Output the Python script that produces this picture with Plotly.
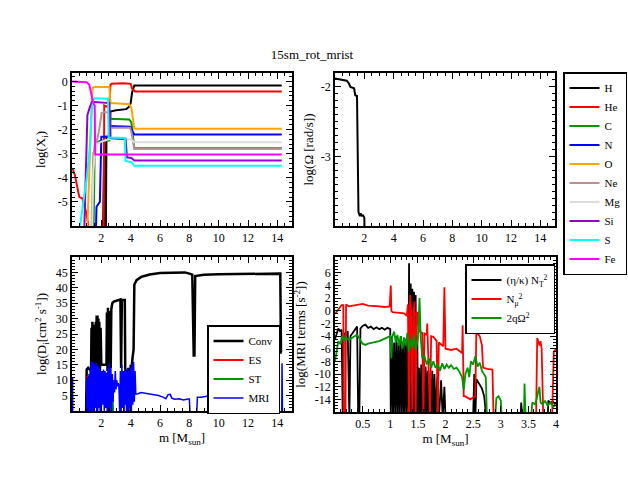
import plotly.graph_objects as go

W, H = 628, 485
FONT = "Liberation Serif"

# ---------------- top left: log(X_i) against m ----------------
elements = ["H", "He", "C", "N", "O", "Ne", "Mg", "Si", "S", "Fe"]
element_colors = ["black", "#ff0000", "#009600", "#0000ff", "#ffa500",
                  "#bc8f8f", "#dcdcdc", "#9400d3", "#00ffff", "#ff00ff"]

H_pts = [(2.1, -7), (2.15, -2.5), (2.2, -2.5), (2.25, -7), (2.3, -7), (2.35, -2.3),
         (2.6, -2.3), (2.62, -1.25), (3.0, -1.2), (3.7, -1.15), (3.9, -1.05),
         (4.0, -0.9), (4.1, -0.45), (4.25, -0.17), (14.3, -0.17)]
He_pts = [(0.0, -3.6), (0.09, -3.7), (0.2, -3.9), (0.4, -4.45), (0.5, -4.8), (0.7, -4.85),
          (0.95, -5.4), (1.1, -5.9), (1.25, -7), (2.15, -7), (2.2, -1.0), (2.35, -1.05),
          (2.55, -1.0), (2.62, -0.15), (2.7, -0.1), (3.5, -0.08), (4.0, -0.1),
          (4.1, -0.3), (4.3, -0.42), (14.3, -0.42)]
C_pts = [(1.45, -7), (1.55, -2.65), (1.8, -2.5), (2.0, -2.45), (2.55, -2.45), (2.6, -1.55),
         (3.9, -1.58), (4.05, -1.7), (4.25, -2.77), (14.3, -2.77)]
N_pts = [(1.6, -7), (1.67, -5.2), (1.9, -5.0), (1.95, -2.5), (2.0, -2.3), (2.5, -2.3),
         (2.55, -1.85), (3.95, -1.88), (4.05, -2.0), (4.25, -2.2), (14.3, -2.2)]
O_pts = [(1.0, -7), (1.05, -6), (1.11, -5.4), (1.18, -3.6), (1.27, -2.3), (1.34, -0.9),
         (1.41, -0.27), (1.5, -0.23), (2.55, -0.23), (2.62, -0.85), (2.7, -0.9),
         (3.9, -0.95), (4.05, -1.1), (4.25, -1.96), (14.3, -1.96)]
Ne_pts = [(1.3, -7), (1.45, -3.0), (1.64, -2.6), (1.84, -2.06), (2.02, -1.3), (2.25, -1.27),
          (2.55, -1.3), (2.62, -1.92), (3.95, -1.92), (4.05, -2.1), (4.25, -2.8), (14.3, -2.8)]
Mg_pts = [(1.35, -7), (1.45, -3.8), (1.55, -3.0), (1.7, -2.6), (2.0, -2.5), (2.6, -2.38),
          (3.95, -2.4), (4.05, -2.45), (4.25, -2.52), (14.3, -2.52)]
Si_pts = [(0.8, -7), (0.9, -4.5), (1.0, -2.0), (1.05, -1.4), (1.2, -1.1), (1.35, -0.85),
          (1.5, -0.85), (2.55, -0.9), (2.62, -2.35), (3.65, -2.4), (3.75, -3.15),
          (4.05, -3.18), (4.25, -3.28), (14.3, -3.28)]
S_pts = [(0.45, -7), (0.55, -6), (0.77, -5.0), (1.0, -4.05), (1.23, -2.67), (1.34, -1.3),
         (1.45, -0.75), (1.55, -0.7), (2.45, -0.72), (2.5, -2.33), (3.6, -2.35),
         (3.65, -3.3), (4.05, -3.35), (4.25, -3.5), (14.3, -3.5)]
Fe_pts = [(0.0, 0.0), (0.9, 0.0), (1.0, -0.03), (1.18, -0.14), (1.32, -0.48), (1.45, -0.9),
          (1.55, -1.0), (1.58, -3.03), (14.3, -3.03)]
abundances = [H_pts, He_pts, C_pts, N_pts, O_pts, Ne_pts, Mg_pts, Si_pts, S_pts, Fe_pts]

# ---------------- top right: log(Omega) ----------------
omega_pts = [(0.0, -1.88), (0.3, -1.89), (0.6, -1.9), (0.8, -1.91), (0.95, -1.95),
             (1.05, -2.0), (1.3, -2.02), (1.38, -2.12), (1.5, -2.13), (1.55, -3.0),
             (1.6, -3.8), (1.7, -3.86), (1.75, -3.82), (1.85, -3.86), (1.9, -3.84),
             (2.0, -3.88), (2.02, -4.2)]

# ---------------- bottom left: log(D_i) ----------------
diff_names = ["Conv", "ES", "ST", "MRI"]
diff_colors = ["black", "#ff0000", "#009600", "#0000ff"]
diff_widths = [2.5, 2, 2, 1.5]

conv_pts = [(0.95, -5), (1.0, 13.5), (1.1, 14), (1.2, 13.5), (1.3, 13), (1.33, 27), (1.36, 12),
            (1.39, 29), (1.42, 14), (1.45, 28), (1.48, 12), (1.52, 13), (1.58, 12), (1.62, 29),
            (1.65, 12), (1.68, 31), (1.71, 13), (1.74, 31), (1.77, 12), (1.8, 30), (1.83, 13),
            (1.86, 29), (1.9, 12), (1.95, 27), (2.0, 15), (2.2, 15), (2.35, 15), (2.38, 32),
            (2.42, 13), (2.45, 33.5), (2.48, 13), (2.52, 32.5), (2.56, 0), (2.6, 32),
            (2.64, 14), (2.68, 33), (2.75, 35), (2.85, 35.5), (3.2, 36), (3.3, 36.2),
            (3.35, 14), (3.4, 36), (3.6, 36), (3.63, 14), (3.7, 12), (3.75, 0), (3.8, 13),
            (3.85, 0), (3.9, 14), (3.95, 2), (4.0, 15), (4.05, 13), (4.12, 17), (4.2, 20),
            (4.25, 41), (4.4, 42.5), (4.75, 43.6), (5.3, 44.3), (6.0, 44.8), (7.0, 45),
            (7.7, 45), (8.0, 44.6), (8.2, 44.3), (8.3, 18), (8.35, 18), (8.4, 43.8),
            (9.0, 44.2), (10.0, 44.4), (11.0, 44.5), (12.0, 44.6), (13.0, 44.6),
            (14.2, 44.6), (14.25, 19), (14.3, 19)]
es_pts = [(1.02, -1), (1.04, 9), (1.07, 11.3), (1.1, 11), (1.14, 9), (1.18, 6), (1.22, 3),
          (1.26, -1)]
st_pts = [(1.18, -1), (1.21, 2), (1.25, 1.5), (1.28, -1), (None, None),
          (2.72, -1), (2.74, 6.5), (2.77, 6), (2.8, -1)]
mri_pts = [(0.0, 10.5), (0.04, 10.5), (0.05, -1), (1.0, -1), (1.02, 10), (1.05, 0), (1.08, 11),
           (1.12, 0), (1.16, 12), (1.2, 0), (1.24, 14), (1.28, 0), (1.32, 16), (1.36, 0),
           (1.4, 16), (1.44, 0), (1.48, 15.5), (1.52, 0), (1.56, 15), (1.6, 1), (1.64, 15.5),
           (1.68, 0), (1.72, 15), (1.76, 0), (1.8, 14.5), (1.84, 1), (1.88, 14), (1.92, 0),
           (1.96, 13), (2.0, 0), (2.05, 13), (2.1, 2), (2.15, 13.5), (2.2, 0), (2.25, 13),
           (2.3, 1), (2.35, 12.5), (2.4, 0), (2.45, 14), (2.5, 0), (2.55, 15.5), (2.6, 1),
           (2.65, 14), (2.7, 0), (2.75, 12), (2.8, 3), (2.85, 10), (2.9, 6), (2.95, 13),
           (3.0, 7), (3.05, 10), (3.1, 8), (3.15, 9), (3.2, 8), (3.25, 0), (3.3, 13),
           (3.35, 0), (3.4, 15), (3.45, 1), (3.5, 13), (3.55, 0), (3.6, 13.5), (3.65, 2),
           (3.7, 13), (3.75, 0), (3.8, 14), (3.85, 0), (3.9, 13), (3.95, 1), (4.0, 14),
           (4.05, 0), (4.1, 15), (4.15, 2), (4.2, 16), (4.25, 3), (4.3, 13), (4.35, 5.5),
           (4.5, 5.6), (4.7, 6), (5.0, 5.8), (5.3, 5.5), (5.6, 5.2), (5.9, 5.0), (6.2, 4.5),
           (6.4, 4), (6.55, 5.3), (6.7, 5.4), (6.8, 4.2), (7.0, 3.8), (7.3, 4.0), (7.6, 3.6),
           (7.9, 3.9), (8.0, 3.9), (8.05, -1), (8.5, -1), (8.55, 4.5), (8.8, 4.5), (9.2, 4.8),
           (9.6, 5.0), (10.0, 5.3), (10.4, 4.9), (10.8, 5.2), (11.2, 4.6), (11.6, 5.0),
           (12.0, 5.5), (12.3, 5.8), (12.6, 6.0), (12.8, 6.2), (13.0, 5.5), (13.2, 6.3),
           (13.4, 6.8), (13.6, 8), (13.85, 9.8), (13.92, 10), (13.95, -1), (14.3, -1),
           (14.32, 15.5), (14.35, -1)]
diffusion = [conv_pts, es_pts, st_pts, mri_pts]

# ---------------- bottom right: MRI terms ----------------
mri_names = ["(η/κ) N<sub>T</sub><sup>2</sup>", "N<sub>μ</sub><sup>2</sup>", "2qΩ<sup>2</sup>"]
mri_colors = ["black", "#ff0000", "#009600"]

nt_pts = [(0.0, -4.5), (0.03, -3.5), (0.06, -2.8), (0.09, -3.2), (0.12, -3.0), (0.14, -17),
          (0.16, -3.5), (0.2, -3.8), (0.23, -3.2), (0.26, -17), (0.28, -4.0), (0.32, -3.5),
          (0.36, -3.0), (0.4, -2.5), (0.42, -17), (0.44, -17), (0.46, -2.8), (0.5, -2.4),
          (0.55, -2.2), (0.6, -2.7), (0.65, -2.5), (0.7, -2.9), (0.75, -2.6), (0.8, -2.9),
          (0.85, -2.7), (0.9, -3.0), (0.95, -2.7), (1.0, -2.9), (1.01, -17), (1.03, -4),
          (1.05, -17), (1.07, -5), (1.09, -17), (1.11, -4), (1.13, -17), (1.15, -5),
          (1.17, -17), (1.19, -4), (1.21, -17), (1.23, -5), (1.25, -17), (1.27, -4.5),
          (1.29, -17), (1.31, -4), (1.33, -17), (1.34, 7.5), (1.35, -17), (1.37, 4.3),
          (1.38, -17), (1.4, 3.5), (1.41, -17), (1.43, 3.0), (1.44, -17), (1.46, 2.5),
          (1.47, -17), (1.49, -4), (1.5, -17), (1.52, -9), (1.54, -17), (1.56, -8.5),
          (1.58, -17), (1.6, -9), (1.62, -17), (1.64, -8.8), (1.66, -17), (1.68, -9.5),
          (1.7, -17), (1.72, -10), (1.74, -17), (1.76, -9.5), (1.78, -17), (1.8, -10),
          (1.82, -17), (1.85, -10.5), (1.88, -17), (1.92, -11), (1.95, -17), (1.98, -12),
          (2.0, -17), (2.5, -17), (2.52, -10), (2.54, -17), (2.56, -10.8), (2.6, -11.5),
          (2.66, -12.3), (2.7, -13.5), (2.74, -17), (3.36, -17), (3.37, -14.5), (3.39, -17),
          (3.85, -17), (3.86, -14.2), (3.9, -14.6), (3.94, -14.3), (3.98, -14.7), (4.0, -14.5)]
nmu_pts = [(0.0, -0.5), (0.03, -0.1), (0.08, 0.5), (0.12, 0.9), (0.15, 0.9), (0.16, -17),
           (0.19, -17), (0.2, 1.0), (0.25, 0.7), (0.3, 0.8), (0.4, 1.0), (0.5, 1.1),
           (0.6, 0.8), (0.7, 0.8), (0.8, 0.7), (0.9, 0.6), (0.99, 0.7), (1.01, 4.0),
           (1.02, 0.0), (1.04, -0.2), (1.15, -0.3), (1.25, -0.4), (1.3, -0.8), (1.32, 1.0),
           (1.34, -17), (1.36, 2.5), (1.38, -0.3), (1.4, -17), (1.42, -0.5), (1.44, 1.5),
           (1.46, -17), (1.48, -0.2), (1.5, -0.5), (1.52, -3.2), (1.58, -3.5), (1.6, -17),
           (1.62, -3.6), (1.66, -3.8), (1.67, -2.0), (1.72, -17), (1.74, -4.0), (1.78, -4.1),
           (1.84, -4.8), (1.86, -17), (1.88, -5.0), (1.92, -5.3), (1.96, -5.6), (1.98, 3.7),
           (2.0, -6.0), (2.1, -6.2), (2.2, -6.0), (2.3, -6.7), (2.31, -2.3), (2.33, -13.5),
           (2.35, -13.5), (2.45, -14), (2.54, -13.5), (2.56, -2.3), (2.58, -3.6),
           (2.62, -4.0), (2.66, -5.5), (2.68, -9.0), (2.75, -9.2), (2.85, -9.3), (2.87, -17),
           (3.64, -17), (3.66, -4.3), (3.7, -5.5), (3.72, -4.8), (3.74, -6.0), (3.77, -17),
           (3.93, -17), (3.96, -6.5), (4.0, -6.0)]
shear_pts = [(0.0, -8), (0.03, -6), (0.06, -4.8), (0.1, -5.3), (0.13, -4.0), (0.17, -4.7),
             (0.2, -4.2), (0.25, -4.6), (0.3, -4.3), (0.35, -4.1), (0.4, -3.8), (0.45, -4.5),
             (0.5, -5.2), (0.55, -5.4), (0.6, -5.2), (0.7, -5.0), (0.8, -4.8), (0.9, -4.4),
             (1.0, -4.0), (1.02, -7.5), (1.04, -4.0), (1.07, -3.3), (1.1, -5.0), (1.13, -3.8),
             (1.16, -5.5), (1.19, -4.0), (1.22, -6.0), (1.25, -4.2), (1.28, -5.5),
             (1.31, -3.5), (1.34, -6.5), (1.37, -4.5), (1.4, -5.8), (1.43, -3.8),
             (1.46, -6.2), (1.5, -4.5), (1.53, 2.0), (1.55, -4.0), (1.58, -7.5), (1.62, -7.2),
             (1.66, -8.5), (1.7, -7.5), (1.74, -9.0), (1.78, -8.0), (1.82, -9.0), (1.86, -8.5),
             (1.9, -9.5), (1.94, -8.3), (1.98, -9.2), (2.02, -8.5), (2.06, -9.0), (2.1, -8.6),
             (2.15, -9.2), (2.2, -9.0), (2.25, -9.6), (2.3, -10.5), (2.33, -12.5), (2.36, -10),
             (2.4, -9.0), (2.43, -10.5), (2.46, -8.0), (2.5, -8.5), (2.54, -7.2), (2.58, -8.8),
             (2.62, -8.2), (2.66, -9.5), (2.7, -10.2), (2.73, -10.5), (2.75, -17), (2.9, -17),
             (2.92, -13.8), (2.96, -13.5), (3.0, -14.2), (3.02, -17), (3.42, -17),
             (3.43, -11.5), (3.45, -17), (3.55, -17), (3.57, -14.5), (3.62, -14.8),
             (3.66, -13.5), (3.7, -12.0), (3.72, -14.5), (3.76, -14.8), (3.8, -14.2),
             (3.85, -15), (3.9, -14.5), (3.95, -15.2), (4.0, -14.8)]
mri_terms = [nt_pts, nmu_pts, shear_pts]

# tick labels
m_ticks = [2, 4, 6, 8, 10, 12, 14]
xi_ticks = [0, -1, -2, -3, -4, -5]
omega_ticks = [-2, -3]
d_ticks = [5, 10, 15, 20, 25, 30, 35, 40, 45]
mri_ticks = [6, 4, 2, 0, -2, -4, -6, -8, -10, -12, -14]
m_zoom_ticks = [0.5, 1, 1.5, 2, 2.5, 3, 3.5, 4]
m_zoom_labels = ["0.5", "1", "1.5", "2", "2.5", "3", "3.5", "4"]


def unzip(pts):
  return [p[0] for p in pts], [p[1] for p in pts]


def xdom(a, b):
  return [a / W, b / W]


def ydom(top, bottom):
  return [1 - bottom / H, 1 - top / H]


def axis(domain, rng, tickvals, minor, anchor, labels=None, title=None, standoff=None):
  a = dict(domain=domain, range=rng, anchor=anchor, tickmode="array", tickvals=tickvals,
           ticktext=labels if labels else [str(v) for v in tickvals],
           ticks="inside", ticklen=6, tickwidth=1.2, tickcolor="black",
           mirror="allticks", showline=True, linecolor="black", linewidth=1.5,
           showgrid=False, zeroline=False, automargin=False,
           minor=dict(tickmode="linear", tick0=0, dtick=minor, ticks="inside",
                      ticklen=3, tickwidth=1, tickcolor="black"),
           tickfont=dict(family=FONT, size=12, color="black"))
  if title:
    a["title"] = dict(text=title, font=dict(family=FONT, size=13, color="black"),
                      standoff=standoff)
  return a


fig = go.Figure()

for name, color, pts in zip(elements, element_colors, abundances):
  x, y = unzip(pts)
  fig.add_trace(go.Scatter(x=x, y=y, mode="lines", name=name, xaxis="x", yaxis="y",
                           line=dict(color=color, width=2), legend="legend"))

x, y = unzip(omega_pts)
fig.add_trace(go.Scatter(x=x, y=y, mode="lines", xaxis="x2", yaxis="y2", showlegend=False,
                         line=dict(color="black", width=2)))

for name, color, wd, pts in zip(diff_names, diff_colors, diff_widths, diffusion):
  x, y = unzip(pts)
  fig.add_trace(go.Scatter(x=x, y=y, mode="lines", name=name, xaxis="x3", yaxis="y3",
                           line=dict(color=color, width=wd), legend="legend2",
                           connectgaps=False))

for name, color, pts in zip(mri_names, mri_colors, mri_terms):
  x, y = unzip(pts)
  fig.add_trace(go.Scatter(x=x, y=y, mode="lines", name=name, xaxis="x4", yaxis="y4",
                           line=dict(color=color, width=1.8), legend="legend3"))

msun = "m [M<sub>sun</sub>]"
box = dict(bgcolor="white", bordercolor="black", borderwidth=1.5,
           font=dict(family=FONT, size=11, color="black"),
           xanchor="left", yanchor="top", tracegroupgap=0)

fig.update_layout(
  width=W, height=H, margin=dict(l=0, r=0, t=0, b=0),
  paper_bgcolor="white", plot_bgcolor="white",
  title=dict(text="15sm_rot_mrist", x=312 / W, y=1 - 54 / H, xanchor="center",
             yanchor="middle", font=dict(family=FONT, size=13, color="black")),
  xaxis=axis(xdom(72, 292), [0, 15], m_ticks, 0.5, "y"),
  yaxis=axis(ydom(73, 226), [-6, 0.35], xi_ticks, 0.2, "x",
             title="log(X<sub>i</sub>)", standoff=9),
  xaxis2=axis(xdom(335, 555), [0, 15], m_ticks, 0.5, "y2"),
  yaxis2=axis(ydom(73, 226), [-4, -1.8], omega_ticks, 0.1, "x2",
              title="log(Ω [rad/s])", standoff=4),
  xaxis3=axis(xdom(72, 292), [0, 15], m_ticks, 0.5, "y3", title=msun, standoff=2),
  yaxis3=axis(ydom(257, 411), [0, 50], d_ticks, 1, "x3",
              title="log(D<sub>i</sub>[cm<sup>2</sup> s<sup>-1</sup>])", standoff=6),
  xaxis4=axis(xdom(335, 556), [0, 4], m_zoom_ticks, 0.1, "y4", labels=m_zoom_labels,
              title=msun, standoff=2),
  yaxis4=axis(ydom(257, 412), [-16, 8.5], mri_ticks, 0.5, "x4",
              title="log(MRI terms [s<sup>-2</sup>])", standoff=6),
  legend=dict(box, x=563 / W, y=1 - 72 / H),
  legend2=dict(box, x=207 / W, y=1 - 325 / H),
  legend3=dict(box, x=465 / W, y=1 - 264 / H),
)

# the page's default body margin would shift the 628x485 figure; drop it
fig.write_html("out.html", config={"displayModeBar": False},
               post_script="document.body.style.margin = '0';")
